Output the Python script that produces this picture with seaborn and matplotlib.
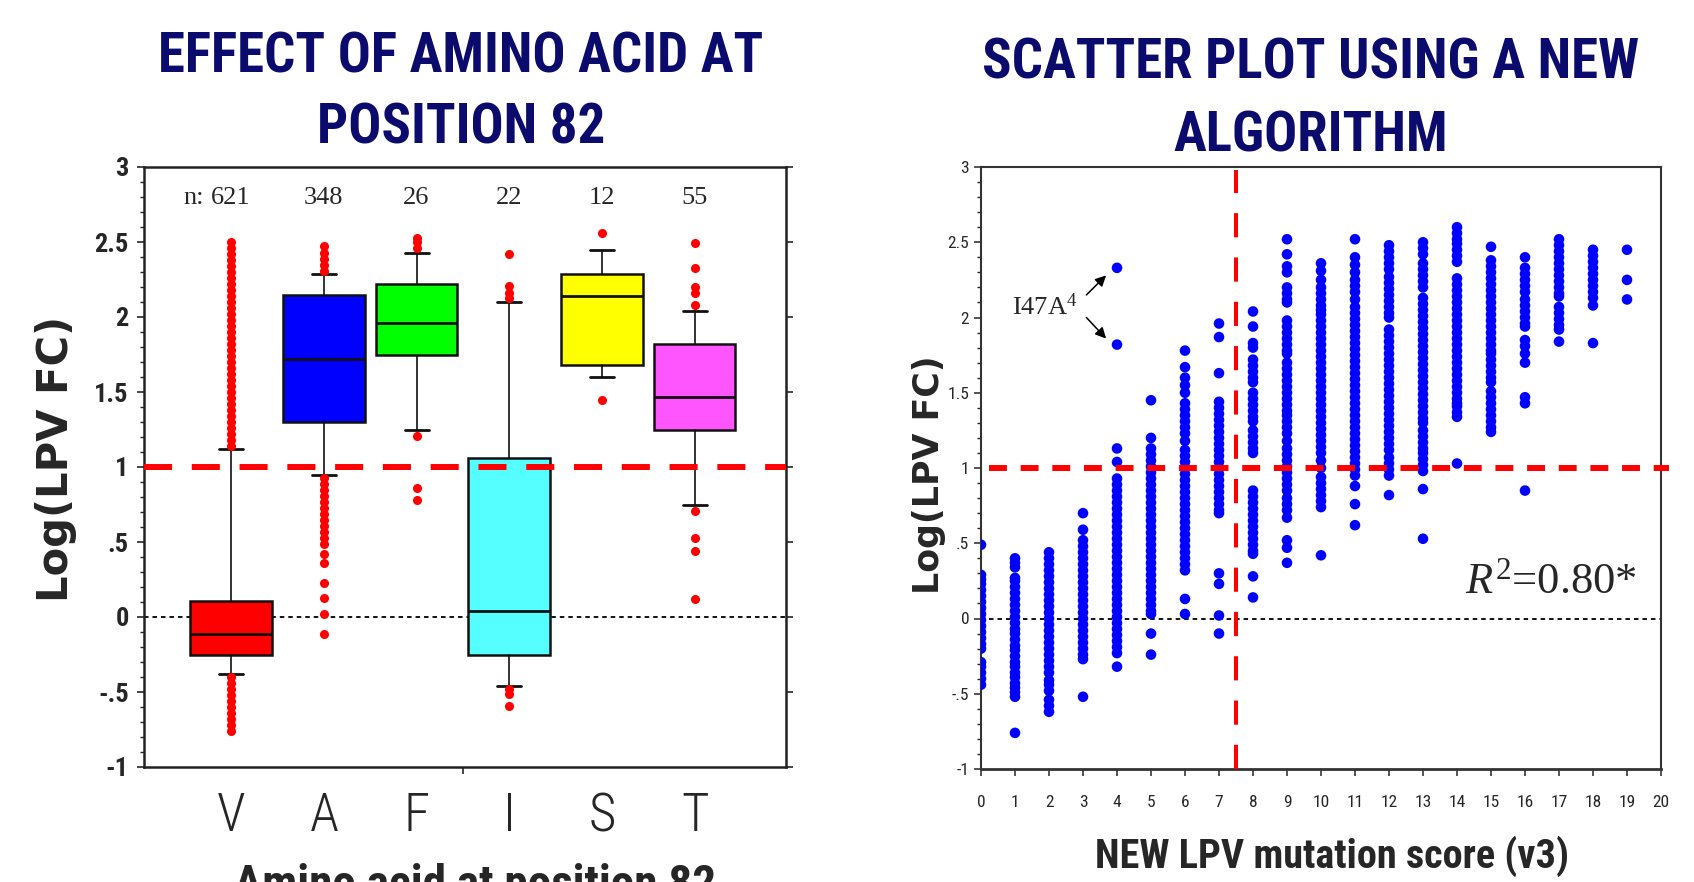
import matplotlib
matplotlib.use("Agg")
import matplotlib.pyplot as plt
from matplotlib import font_manager as fm
from matplotlib.ticker import FixedLocator, MultipleLocator, FixedFormatter
import numpy as np
import pandas as pd
import seaborn as sns

# ---------------- data: left panel (box plot summary) ----
categories = ["V", "A", "F", "I", "S", "T"]
n_counts = [621, 348, 26, 22, 12, 55]
box_colors = ["#FF0000", "#0000FF", "#00FF00", "#55FFFF", "#FFFF00", "#FF55FF"]
q1 = [-0.25, 1.30, 1.75, -0.25, 1.68, 1.25]
medians = [-0.11, 1.72, 1.96, 0.04, 2.14, 1.47]
q3 = [0.11, 2.15, 2.22, 1.06, 2.29, 1.82]
whis_lo = [-0.38, 0.95, 1.25, -0.46, 1.60, 0.75]
whis_hi = [1.12, 2.29, 2.43, 2.10, 2.45, 2.04]
fliers_V = [1.14, 1.18, 1.22, 1.26, 1.30, 1.34, 1.38, 1.42, 1.46, 1.50, 1.54, 1.58,
            1.62, 1.66, 1.70, 1.74, 1.78, 1.82, 1.86, 1.90, 1.94, 1.98, 2.02, 2.06,
            2.10, 2.14, 2.18, 2.22, 2.26, 2.30, 2.34, 2.38, 2.42, 2.46, 2.50,
            -0.40, -0.44, -0.48, -0.52, -0.56, -0.60, -0.64, -0.68, -0.72, -0.76]
fliers_A = [2.31, 2.35, 2.39, 2.43, 2.47, 0.93, 0.89, 0.85, 0.81, 0.77, 0.73, 0.69,
            0.65, 0.61, 0.57, 0.53, 0.49, 0.42, 0.36, 0.23, 0.13, 0.02, -0.11]
fliers_F = [2.53, 2.50, 2.46, 1.21, 0.86, 0.78]
fliers_I = [2.42, 2.21, 2.16, 2.13, -0.48, -0.51, -0.59]
fliers_S = [2.56, 1.45]
fliers_T = [2.49, 2.33, 2.20, 2.16, 2.08, 0.71, 0.53, 0.44, 0.12]
y_tick_vals = [-1, -0.5, 0, 0.5, 1, 1.5, 2, 2.5, 3]
y_tick_labels = ["-1", "-.5", "0", ".5", "1", "1.5", "2", "2.5", "3"]

# ---------------- data: right panel (scatter, Log(LPV FC) per score) -------
score_0 = [0.49, 0.29, 0.26, 0.23, 0.19, 0.15, 0.11, 0.07, 0.03, -0.01, -0.05, -0.09,
           -0.13, -0.17, -0.20, -0.29, -0.32, -0.36, -0.40, -0.44]
score_1 = [0.40, 0.37, 0.34, 0.27, 0.25, 0.21, 0.17, 0.13, 0.09, 0.05, 0.01, -0.03,
           -0.07, -0.10, -0.14, -0.18, -0.21, -0.25, -0.29, -0.32, -0.36, -0.39,
           -0.43, -0.46, -0.49, -0.52, -0.76]
score_2 = [0.44, 0.40, 0.36, 0.32, 0.28, 0.24, 0.20, 0.16, 0.12, 0.08, 0.04, 0.00,
           -0.04, -0.08, -0.12, -0.16, -0.20, -0.24, -0.28, -0.32, -0.36, -0.41,
           -0.44, -0.48, -0.54, -0.58, -0.62]
score_3 = [0.70, 0.59, 0.52, 0.48, 0.44, 0.40, 0.36, 0.32, 0.28, 0.24, 0.20, 0.16,
           0.12, 0.08, 0.04, 0.00, -0.04, -0.08, -0.12, -0.16, -0.20, -0.24, -0.27,
           -0.52]
score_4 = [2.33, 1.82, 1.13, 1.04, 0.93, 0.89, 0.85, 0.81, 0.77, 0.73, 0.69, 0.65,
           0.61, 0.57, 0.53, 0.49, 0.45, 0.41, 0.37, 0.33, 0.29, 0.25, 0.21, 0.17,
           0.13, 0.09, 0.05, 0.01, -0.03, -0.07, -0.11, -0.15, -0.19, -0.23, -0.32]
score_5 = [1.45, 1.20, 1.13, 1.09, 1.05, 1.01, 0.97, 0.93, 0.89, 0.85, 0.81, 0.77,
           0.73, 0.69, 0.65, 0.61, 0.57, 0.53, 0.49, 0.45, 0.41, 0.37, 0.33, 0.29,
           0.25, 0.21, 0.17, 0.13, 0.09, 0.05, 0.03, -0.10, -0.24]
score_6 = [1.78, 1.67, 1.60, 1.55, 1.50, 1.43, 1.39, 1.35, 1.31, 1.27, 1.23, 1.18,
           1.12, 1.08, 1.04, 1.00, 0.96, 0.92, 0.88, 0.84, 0.80, 0.76, 0.72, 0.68,
           0.64, 0.60, 0.56, 0.52, 0.48, 0.44, 0.40, 0.36, 0.32, 0.13, 0.03]
score_7 = [1.96, 1.87, 1.63, 1.44, 1.40, 1.36, 1.32, 1.28, 1.24, 1.20, 1.16, 1.12,
           1.08, 1.04, 1.00, 0.96, 0.92, 0.88, 0.84, 0.80, 0.76, 0.72, 0.70, 0.30,
           0.23, 0.02, -0.10]
score_8 = [2.04, 1.94, 1.83, 1.80, 1.72, 1.68, 1.64, 1.60, 1.57, 1.50, 1.46, 1.42,
           1.38, 1.34, 1.31, 1.25, 1.21, 1.17, 1.13, 1.10, 0.85, 0.81, 0.77, 0.73,
           0.69, 0.65, 0.61, 0.57, 0.53, 0.49, 0.45, 0.43, 0.28, 0.14]
score_9 = [2.52, 2.42, 2.34, 2.30, 2.20, 2.16, 2.12, 2.10, 1.98, 1.94, 1.90, 1.86,
           1.82, 1.78, 1.76, 1.70, 1.66, 1.62, 1.58, 1.54, 1.50, 1.46, 1.42, 1.38,
           1.35, 1.31, 1.27, 1.23, 1.18, 1.13, 1.09, 1.05, 1.01, 0.97, 0.93, 0.89,
           0.85, 0.80, 0.76, 0.72, 0.67, 0.52, 0.47, 0.37]
score_10 = [2.36, 2.31, 2.25, 2.20, 2.16, 2.12, 2.08, 2.05, 2.02, 1.98, 1.94, 1.90,
            1.86, 1.82, 1.78, 1.74, 1.70, 1.66, 1.62, 1.58, 1.54, 1.50, 1.46, 1.42,
            1.38, 1.34, 1.30, 1.26, 1.22, 1.18, 1.14, 1.10, 1.05, 1.00, 0.94, 0.90,
            0.86, 0.82, 0.78, 0.74, 0.42]
score_11 = [2.52, 2.40, 2.35, 2.30, 2.25, 2.21, 2.17, 2.12, 2.07, 2.03, 1.99, 1.95,
            1.91, 1.87, 1.83, 1.79, 1.75, 1.71, 1.67, 1.63, 1.59, 1.55, 1.51, 1.47,
            1.43, 1.39, 1.35, 1.31, 1.27, 1.23, 1.19, 1.15, 1.11, 1.07, 1.03, 0.99,
            0.95, 0.88, 0.76, 0.62]
score_12 = [2.48, 2.44, 2.40, 2.36, 2.32, 2.27, 2.23, 2.19, 2.15, 2.11, 2.07, 2.03,
            2.00, 1.92, 1.88, 1.84, 1.80, 1.76, 1.72, 1.68, 1.64, 1.60, 1.56, 1.52,
            1.48, 1.44, 1.40, 1.36, 1.32, 1.28, 1.24, 1.20, 1.16, 1.12, 1.07, 1.03,
            0.99, 0.95, 0.82]
score_13 = [2.50, 2.46, 2.42, 2.36, 2.32, 2.28, 2.24, 2.20, 2.13, 2.09, 2.05, 2.01,
            1.97, 1.93, 1.89, 1.85, 1.81, 1.77, 1.73, 1.69, 1.65, 1.61, 1.57, 1.53,
            1.49, 1.45, 1.41, 1.37, 1.33, 1.30, 1.25, 1.21, 1.17, 1.13, 1.10, 1.06,
            1.02, 0.98, 0.86, 0.53]
score_14 = [2.60, 2.56, 2.52, 2.49, 2.45, 2.41, 2.37, 2.26, 2.22, 2.18, 2.14, 2.10,
            2.06, 2.02, 1.98, 1.94, 1.90, 1.86, 1.82, 1.78, 1.74, 1.70, 1.66, 1.62,
            1.58, 1.54, 1.50, 1.46, 1.43, 1.41, 1.37, 1.34, 1.03]
score_15 = [2.47, 2.38, 2.34, 2.30, 2.26, 2.22, 2.18, 2.14, 2.10, 2.06, 2.02, 1.98,
            1.94, 1.90, 1.86, 1.82, 1.78, 1.76, 1.72, 1.68, 1.64, 1.60, 1.57, 1.51,
            1.47, 1.43, 1.39, 1.35, 1.31, 1.27, 1.24]
score_16 = [2.40, 2.33, 2.29, 2.25, 2.21, 2.17, 2.12, 2.08, 2.04, 2.00, 1.96, 1.94,
            1.85, 1.81, 1.76, 1.70, 1.47, 1.43, 0.85]
score_17 = [2.52, 2.48, 2.44, 2.40, 2.36, 2.32, 2.28, 2.24, 2.20, 2.16, 2.14, 2.07,
            2.03, 1.99, 1.95, 1.92, 1.84]
score_18 = [2.45, 2.41, 2.37, 2.33, 2.29, 2.25, 2.21, 2.17, 2.13, 2.08, 1.83]
score_19 = [2.45, 2.25, 2.12]
x_score_ticks = list(range(0, 21))
r2_text = "0.80*"

columns = [score_0, score_1, score_2, score_3, score_4, score_5, score_6, score_7,
           score_8, score_9, score_10, score_11, score_12, score_13, score_14,
           score_15, score_16, score_17, score_18, score_19]
rows = []
for sc, vals in enumerate(columns):
    for v in vals:
        rows.append((sc, v))
df = pd.DataFrame(rows, columns=["score", "log_fc"])

# ---------------- style / fonts --------------------------------------------
sns.set_style("ticks")
names = {f.name for f in fm.fontManager.ttflist}
NARROW_FAM = "Roboto"
for cand in ["Roboto Condensed", "Liberation Sans Narrow", "Open Sans Condensed",
             "DejaVu Sans Condensed", "Roboto"]:
    if cand in names:
        NARROW_FAM = cand
        break
SERIF = "Liberation Serif"
plt.rcParams["font.family"] = ["DejaVu Sans"]
plt.rcParams["mathtext.fontset"] = "custom"
plt.rcParams["mathtext.rm"] = SERIF
plt.rcParams["mathtext.it"] = SERIF + ":italic"


def nfp(size, weight="normal"):
    return fm.FontProperties(family=NARROW_FAM, size=size, weight=weight)


NAVY = "#0b0b6e"
W, H = 1694, 882
fig = plt.figure(figsize=(W / 100, H / 100), dpi=100)
fig.patch.set_facecolor("white")


def px_axes(l, r, t, b):
    return fig.add_axes([l / W, 1 - b / H, (r - l) / W, (b - t) / H])


# ================= LEFT PANEL =============================================
ax1 = px_axes(144, 786, 167, 767)
fliers_all = [fliers_V, fliers_A, fliers_F, fliers_I, fliers_S, fliers_T]
stats = []
for i, c in enumerate(categories):
    stats.append(dict(label=c, q1=q1[i], med=medians[i], q3=q3[i],
                      whislo=whis_lo[i], whishi=whis_hi[i], fliers=fliers_all[i]))
ax1.axhline(0, color="black", lw=1.3, ls=(0, (2.5, 2.2)), zorder=1)
bp = ax1.bxp(stats, positions=list(range(len(categories))), widths=0.88,
             patch_artist=True, capwidths=0.26,
             boxprops=dict(edgecolor="#111111", linewidth=1.8),
             medianprops=dict(color="#111111", linewidth=2),
             whiskerprops=dict(color="#111111", linewidth=1.2),
             capprops=dict(color="#111111", linewidth=2),
             flierprops=dict(marker="o", markerfacecolor="red", markeredgecolor="red",
                             markersize=5.5, linestyle="none"))
for patch, col in zip(bp["boxes"], box_colors):
    patch.set_facecolor(col)
    patch.set_zorder(2)
for fl in bp["fliers"]:
    fl.set_zorder(4)
ax1.axhline(1, color="red", lw=4.3, ls=(0, (4.7, 3.3)), zorder=3)
ax1.set_xlim(-0.94, 5.985)
ax1.set_ylim(-1, 3)
ax1.yaxis.set_major_locator(FixedLocator(y_tick_vals))
ax1.yaxis.set_major_formatter(FixedFormatter(y_tick_labels))
ax1.yaxis.set_minor_locator(MultipleLocator(0.1))
ax1.xaxis.set_major_locator(FixedLocator(list(range(len(categories)))))
ax1.set_xticklabels(categories)
ax1.xaxis.set_minor_locator(FixedLocator([2.5]))
ax1.tick_params(axis="x", which="major", length=0, pad=17)
ax1.tick_params(axis="x", which="minor", length=5, width=1.2, direction="out")
ax1.tick_params(axis="y", which="major", length=5, width=1.2, direction="out",
                right=True, pad=6)
ax1.tick_params(axis="y", which="minor", length=3, width=1, direction="out",
                left=True, right=False)
for lab in ax1.get_xticklabels():
    lab.set_fontproperties(nfp(38, "light"))
for lab in ax1.get_yticklabels():
    lab.set_fontproperties(nfp(19, "bold"))
for s in ax1.spines.values():
    s.set_linewidth(1.8)
    s.set_color("#222222")
ax1.set_xlabel("")
ax1.set_ylabel("")
# n counts
for i, n in enumerate(n_counts):
    ax1.text(i, 2.79, str(n), ha="center", va="center", fontsize=19,
             family=SERIF)
ax1.text(-0.40, 2.79, "n:", ha="center", va="center", fontsize=19, family=SERIF)

fig.text(56 / W, 1 - 459 / H, "Log(LPV FC)", rotation=90, ha="center",
         va="center", fontsize=30, fontweight="bold", family="DejaVu Sans")
fig.text(475 / W, 1 - 863 / H, "Amino acid at position 82", ha="center", va="top",
         fontproperties=nfp(34, "bold"))
fig.text(461 / W, 1 - 93 / H, "EFFECT OF AMINO ACID AT\nPOSITION 82", ha="center",
         va="center", color=NAVY, linespacing=1.47,
         fontproperties=nfp(39.5, "bold"))

# ================= RIGHT PANEL ============================================
ax2 = px_axes(981, 1661, 167, 769)
ax2.axhline(0, color="black", lw=1.3, ls=(0, (2.5, 2.2)), zorder=1,
            xmin=0.012, xmax=1.0)
sns.scatterplot(data=df, x="score", y="log_fc", color="#0000FF", s=58,
                edgecolor="none", linewidth=0, legend=False, ax=ax2, zorder=3)
ax2.axhline(1, color="red", lw=4.3, ls=(0, (3.0, 2.3)), zorder=4,
            xmin=0.012, xmax=1.012, clip_on=False)
ax2.axvline(7.5, color="red", lw=2.9, ls=(0, (6, 5)), zorder=4, ymin=0, ymax=0.995)
ax2.set_xlim(0, 20)
ax2.set_ylim(-1, 3)
ax2.xaxis.set_major_locator(FixedLocator(x_score_ticks))
ax2.yaxis.set_major_locator(FixedLocator(y_tick_vals))
ax2.yaxis.set_major_formatter(FixedFormatter(y_tick_labels))
ax2.yaxis.set_minor_locator(MultipleLocator(0.1))
ax2.tick_params(axis="both", which="major", length=5, width=1.1, direction="out")
ax2.tick_params(axis="x", pad=14)
ax2.tick_params(axis="y", which="minor", length=3, width=1, direction="out")
for lab in ax2.get_xticklabels() + ax2.get_yticklabels():
    lab.set_fontproperties(nfp(12.5))
for s in ax2.spines.values():
    s.set_linewidth(1.5)
    s.set_color("#333333")
ax2.spines["bottom"].set_linewidth(2)
ax2.set_xlabel("")
ax2.set_ylabel("")

ax2.text(1.88, 2.07, "I47A$^{\\mathrm{4}}$", ha="center", va="center",
         fontsize=19, family=SERIF)
ax2.annotate("", xy=(3.68, 2.28), xytext=(3.1, 2.15),
             arrowprops=dict(arrowstyle="-|>", color="black", lw=1.1,
                             mutation_scale=16, shrinkA=0, shrinkB=0))
ax2.annotate("", xy=(3.68, 1.86), xytext=(3.1, 2.0),
             arrowprops=dict(arrowstyle="-|>", color="black", lw=1.1,
                             mutation_scale=16, shrinkA=0, shrinkB=0))
ax2.text(19.3, 0.24, "$\\mathit{R}^{\\mathrm{2}}$=" + r2_text, ha="right",
         va="center", fontsize=32, family=SERIF)

fig.text(929 / W, 1 - 475 / H, "Log(LPV FC)", rotation=90, ha="center",
         va="center", fontsize=25, fontweight="bold", family="DejaVu Sans")
fig.text(1332 / W, 1 - 856 / H, "NEW LPV mutation score (v3)", ha="center",
         va="center", fontproperties=nfp(29, "bold"))
fig.text(1311 / W, 1 - 100 / H, "SCATTER PLOT USING A NEW\nALGORITHM", ha="center",
         va="center", color=NAVY, linespacing=1.5,
         fontproperties=nfp(39.5, "bold"))

fig.savefig("out.png", dpi=100, facecolor="white")
